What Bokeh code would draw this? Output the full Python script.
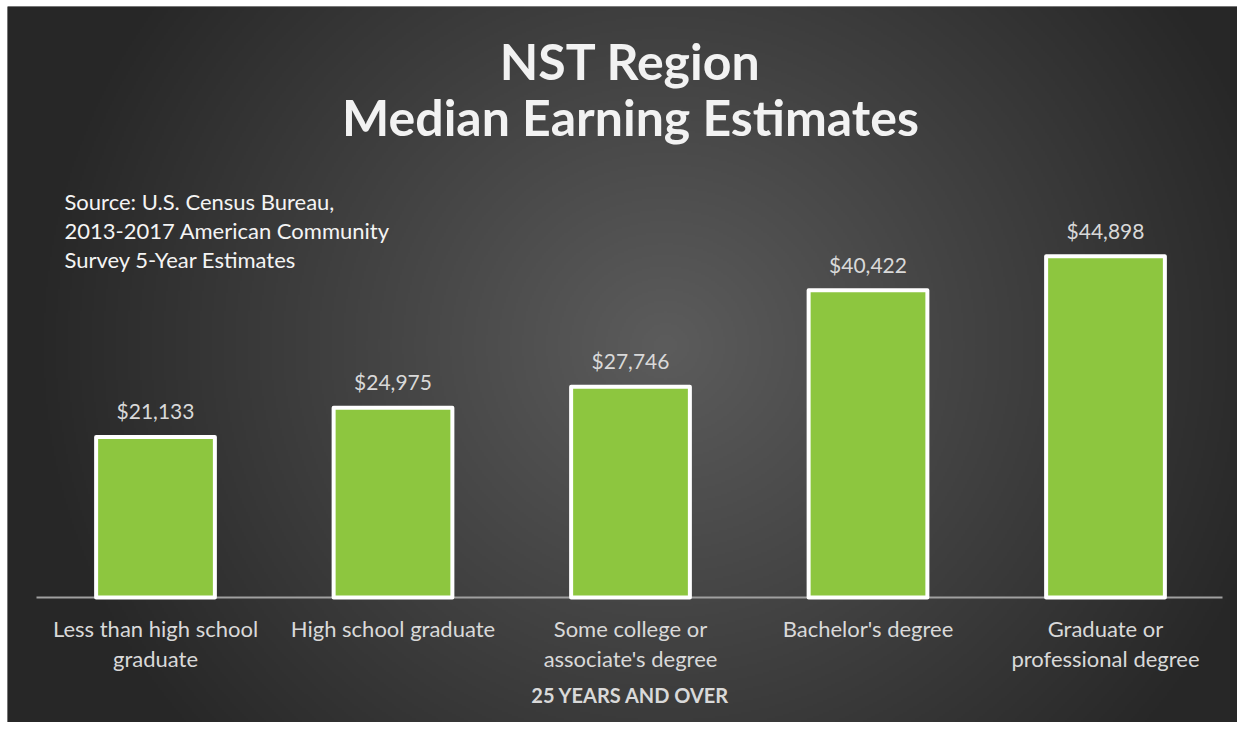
import numpy as np
from bokeh.plotting import figure
from bokeh.models import Range1d
from bokeh.core.properties import value
from bokeh.embed import file_html
from bokeh.resources import INLINE

# ---- data ----
categories = ["Less than high school graduate", "High school graduate",
              "Some college or associate's degree", "Bachelor's degree",
              "Graduate or professional degree"]
category_labels = ["Less than high school\ngraduate", "High school graduate",
                   "Some college or\nassociate's degree", "Bachelor's degree",
                   "Graduate or\nprofessional degree"]
earnings = [21133, 24975, 27746, 40422, 44898]
value_labels = ["${:,}".format(v) for v in earnings]
title_lines = ["NST Region", "Median Earning Estimates"]
source_lines = ["Source: U.S. Census Bureau,", "2013-2017 American Community",
                "Survey 5-Year Estimates"]
axis_title = "25 YEARS AND OVER"

# ---- layout ----
W, H = 1237, 722
L, T = 7, 6                # white page strip left/top of the dark panel
FONT = "Lato"
pos = list(range(len(categories)))   # category slots on the x scale
slot = 237.5                         # pixels per category slot
x0 = (L - 155) / slot
ppd = 0.0076                         # pixels per dollar
base = 597                           # pixel row of the zero line

p = figure(width=W, height=H,
           x_range=Range1d(x0, x0 + (W - L) / slot),
           y_range=Range1d(-(H - base) / ppd, (base - T) / ppd),
           x_axis_type=None, y_axis_type=None,
           output_backend="svg", toolbar_location=None,
           min_border=0, min_border_left=L, min_border_top=T)
p.outline_line_color = None
p.border_fill_color = "white"
p.background_fill_color = "#272727"
p.extra_x_ranges = {"px": Range1d(L, W)}
p.extra_y_ranges = {"px": Range1d(H, T), "bgy": Range1d(0, H - T)}

# radial background gradient
step = 2
xs = np.arange(L, W, step) + step / 2
rows = np.arange(0, H - T, step) + step / 2
X, R = np.meshgrid(xs, rows)
Y = H - R
cx, cy = 665, 345
d = np.sqrt(((X - cx) * 0.95) ** 2 + (Y - cy) ** 2)
v = np.clip(92 - 0.088 * d, 39, 92).astype(np.uint8)
img = np.empty(v.shape, dtype=np.uint32)
view = img.view(dtype=np.uint8).reshape(v.shape + (4,))
view[..., 0] = v
view[..., 1] = v
view[..., 2] = v
view[..., 3] = 255
p.image_rgba(image=[img], x=L, y=0, dw=W - L, dh=H - T,
             x_range_name="px", y_range_name="bgy")

# baseline
p.segment(x0=[36], x1=[1222], y0=[0], y1=[0], x_range_name="px",
          line_color="#a0a0a0", line_width=2)

# bars
p.vbar(x=pos, top=earnings, bottom=0, width=0.5,
       fill_color="#8dc63f", line_color="white", line_width=4, line_join="round")

# value labels
p.text(x=pos, y=earnings, text=value_labels, text_align="center",
       text_baseline="middle", y_offset=-26,
       text_font=value(FONT), text_font_size="21px", text_color="#d9d9d9")

# category labels
p.text(x=pos, y=[0] * len(categories), text=category_labels,
       text_align="center", text_baseline="top", y_offset=17, line_height=1.14,
       text_font=value(FONT), text_font_size="22px", text_color="#d9d9d9")

# axis title
p.text(x=[630], y=[694], text=[axis_title], x_range_name="px", y_range_name="px",
       text_align="center", text_baseline="middle",
       text_font=value(FONT), text_font_style="bold", text_font_size="20px",
       text_color="#d9d9d9")

# title
p.text(x=[630, 630], y=[60, 116], text=title_lines, x_range_name="px", y_range_name="px",
       text_align="center", text_baseline="middle",
       text_font=value(FONT), text_font_style="bold", text_font_size="50px",
       text_color="#f2f2f2")

# source note
p.text(x=[64, 64, 64], y=[201, 230, 259], text=source_lines,
       x_range_name="px", y_range_name="px",
       text_align="left", text_baseline="middle",
       text_font=value(FONT), text_font_size="22px", text_color="#f4f4f4")

open("out.html", "w").write(file_html(p, INLINE))
